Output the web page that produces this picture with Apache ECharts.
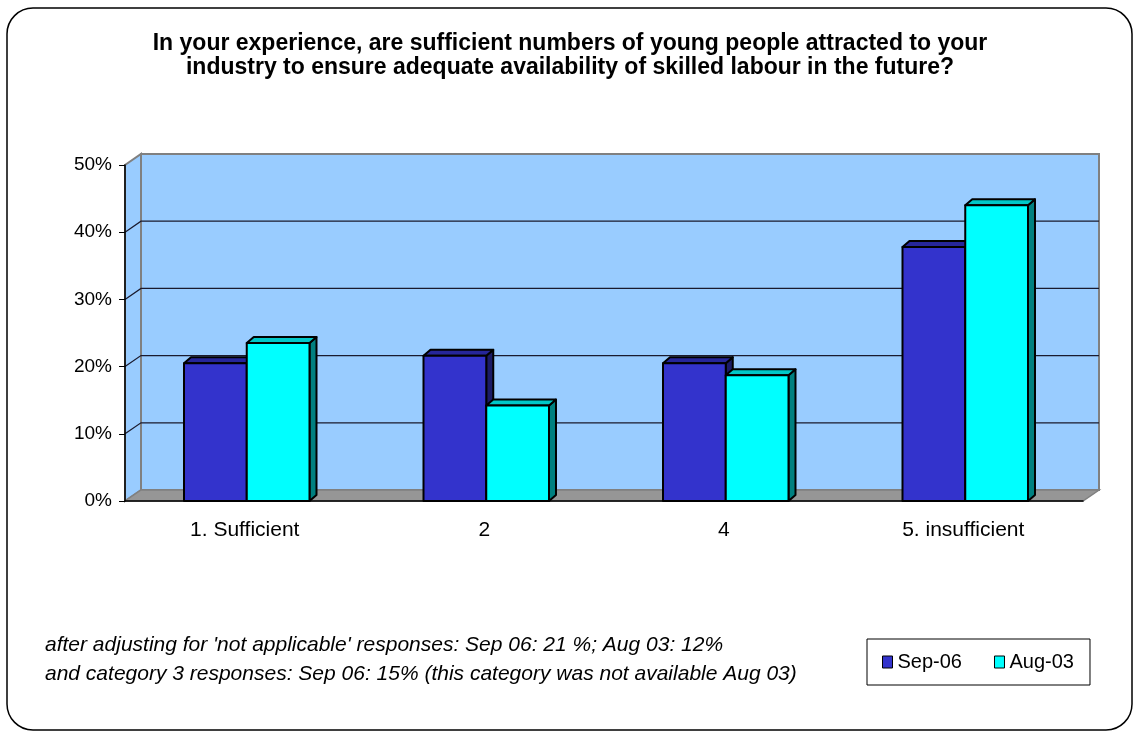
<!DOCTYPE html>
<html>
<head>
<meta charset="utf-8">
<script src="https://cdn.jsdelivr.net/npm/echarts@6/dist/echarts.min.js"></script>
<style>
  html, body { margin: 0; padding: 0; background: #fff; }
  #chart { width: 1140px; height: 735px; }
</style>
</head>
<body>
<div id="chart"></div>
<script>
// data
const categories = ['1. Sufficient', '2', '4', '5. insufficient'];
const sep06 = [20.5, 21.6, 20.5, 37.8];
const aug03 = [23.5, 14.2, 18.7, 44.0];
const yTicks = [0, 10, 20, 30, 40, 50];
const seriesNames = ['Sep-06', 'Aug-03'];
const titleText = 'In your experience, are sufficient numbers of young people attracted to your\nindustry to ensure adequate availability of skilled labour in the future?';
const noteText = "after adjusting for 'not applicable' responses: Sep 06: 21 %; Aug 03: 12%\nand category 3 responses: Sep 06: 15% (this category was not available Aug 03)";

// fake 3d depth of the walls and of the bars
const WALL_DX = 16, WALL_DY = -11;
const BAR_DX = 7, BAR_DY = -6;

const faces = [
  { front: '#3333CC', top: '#26269A', side: '#1C1C66' },
  { front: '#00FFFF', top: '#00C8C8', side: '#008080' }
];

function renderWalls(params, api) {
  const cs = params.coordSys;
  const x0 = cs.x, x1 = cs.x + cs.width;
  const yt = cs.y, yb = cs.y + cs.height;
  const kids = [
    {
      type: 'polygon',
      shape: { points: [[x0, yb], [x0 + WALL_DX, yb + WALL_DY], [x0 + WALL_DX, yt + WALL_DY], [x0, yt]] },
      style: { fill: '#99CCFF', stroke: '#808080', lineWidth: 2 }
    },
    {
      type: 'rect',
      shape: { x: x0 + WALL_DX, y: yt + WALL_DY, width: cs.width, height: cs.height },
      style: { fill: '#99CCFF', stroke: '#808080', lineWidth: 2 }
    },
    {
      type: 'polygon',
      shape: { points: [[x0, yb], [x0 + WALL_DX, yb + WALL_DY], [x1 + WALL_DX, yb + WALL_DY], [x1, yb]] },
      style: { fill: '#969696', stroke: '#808080', lineWidth: 1.5 }
    }
  ];
  yTicks.slice(1, -1).forEach(v => {
    const y = api.coord([0, v])[1];
    kids.push({
      type: 'polyline',
      shape: { points: [[x0, y], [x0 + WALL_DX, y + WALL_DY], [x1 + WALL_DX, y + WALL_DY]] },
      style: { stroke: '#1a1a2e', lineWidth: 1.2, fill: null }
    });
  });
  return { type: 'group', children: kids };
}

function barRenderer(idx) {
  const c = faces[idx];
  return function (params, api) {
    const ci = api.value(0);
    const base = api.coord([ci, 0]);
    const tip = api.coord([ci, api.value(1)]);
    const band = api.size([1, 0])[0];
    const w = band * 0.262;
    const cx = base[0] + 2;
    const x = idx === 0 ? cx - w : cx;
    const ty = tip[1], by = base[1];
    const line = { stroke: '#000', lineWidth: 2, lineJoin: 'round' };
    return {
      type: 'group',
      children: [
        { type: 'polygon', shape: { points: [[x + w, ty], [x + w + BAR_DX, ty + BAR_DY], [x + w + BAR_DX, by + BAR_DY], [x + w, by]] },
          style: Object.assign({ fill: c.side }, line) },
        { type: 'polygon', shape: { points: [[x, ty], [x + BAR_DX, ty + BAR_DY], [x + w + BAR_DX, ty + BAR_DY], [x + w, ty]] },
          style: Object.assign({ fill: c.top }, line) },
        { type: 'rect', shape: { x: x, y: ty, width: w, height: by - ty },
          style: Object.assign({ fill: c.front }, line) }
      ]
    };
  };
}

const chart = echarts.init(document.getElementById('chart'));

chart.setOption({
  animation: false,
  textStyle: { fontFamily: 'Liberation Sans, Arial, sans-serif' },
  title: [
    {
      text: titleText,
      left: 'center',
      top: 32,
      padding: 0,
      textStyle: { fontSize: 23, fontWeight: 'bold', color: '#000', lineHeight: 24 }
    },
    {
      text: noteText,
      left: 45,
      top: 631,
      padding: 0,
      textStyle: { fontSize: 21, fontStyle: 'italic', fontWeight: 'normal', color: '#000', lineHeight: 29 }
    }
  ],
  legend: {
    data: seriesNames,
    left: 867,
    top: 639,
    orient: 'horizontal',
    icon: 'rect',
    itemWidth: 10,
    itemHeight: 12,
    itemGap: 32,
    padding: [13, 16, 13, 15],
    borderColor: '#000',
    borderWidth: 1,
    itemStyle: { borderColor: '#000', borderWidth: 1 },
    textStyle: { fontSize: 20, color: '#000' }
  },
  grid: { left: 125, right: 57, top: 165, bottom: 234, containLabel: false },
  xAxis: {
    type: 'category',
    data: categories,
    z: 10,
    axisLine: { lineStyle: { color: '#000', width: 1.5 } },
    axisTick: { length: 7, lineStyle: { color: '#000' } },
    axisLabel: { fontSize: 21, color: '#000', margin: 19 },
    splitLine: { show: false }
  },
  yAxis: {
    type: 'value',
    min: 0,
    max: 50,
    interval: 10,
    z: 10,
    axisLine: { show: true, lineStyle: { color: '#000', width: 1.5 } },
    axisTick: { show: true, length: 6, lineStyle: { color: '#000' } },
    axisLabel: { formatter: '{value}%', fontSize: 19, color: '#000', margin: 13 },
    splitLine: { show: false }
  },
  graphic: [
    {
      type: 'rect',
      z: -10,
      silent: true,
      shape: { x: 7, y: 8, width: 1125, height: 722, r: 26 },
      style: { fill: '#fff', stroke: '#000', lineWidth: 1.5 }
    }
  ],
  series: [
    {
      type: 'custom',
      name: 'walls',
      z: 0,
      silent: true,
      renderItem: renderWalls,
      data: [[0, 0]],
      encode: { x: 0, y: 1 }
    },
    {
      type: 'custom',
      name: seriesNames[0],
      z: 3,
      clip: false,
      itemStyle: { color: faces[0].front },
      renderItem: barRenderer(0),
      data: sep06.map((v, i) => [i, v]),
      encode: { x: 0, y: 1 }
    },
    {
      type: 'custom',
      name: seriesNames[1],
      z: 4,
      clip: false,
      itemStyle: { color: faces[1].front },
      renderItem: barRenderer(1),
      data: aug03.map((v, i) => [i, v]),
      encode: { x: 0, y: 1 }
    }
  ]
});
</script>
</body>
</html>
